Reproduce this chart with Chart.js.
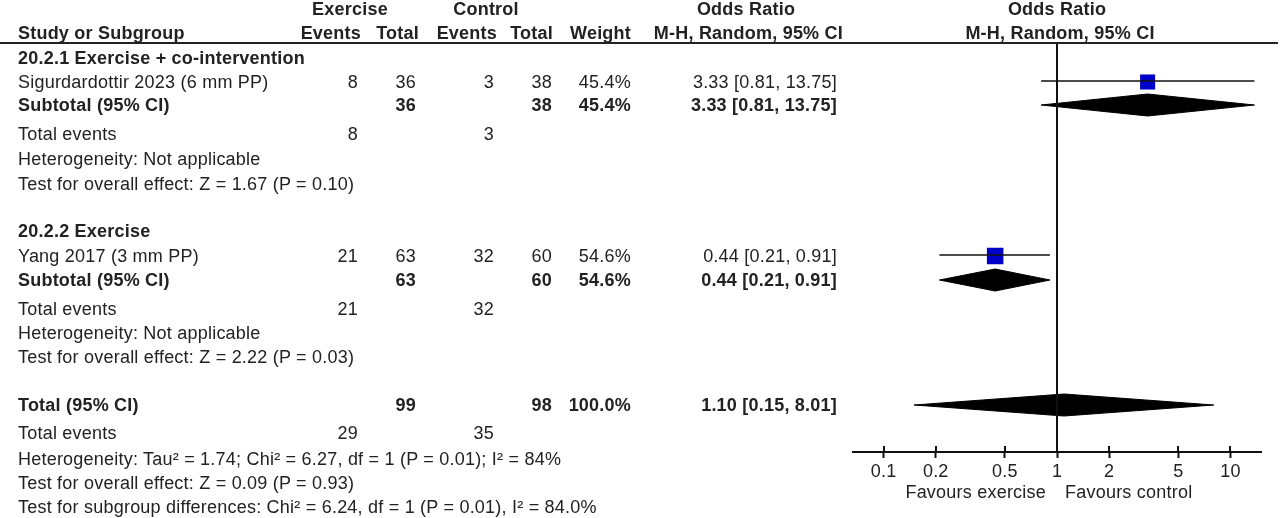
<!DOCTYPE html>
<html>
<head>
<meta charset="utf-8">
<script src="https://cdn.jsdelivr.net/npm/chart.js@4.4.1/dist/chart.umd.min.js"></script>
<style>
  html, body { margin: 0; padding: 0; background: #fff; }
  #wrap { position: relative; width: 1280px; height: 518px; overflow: hidden;
          font-family: 'Liberation Sans', Arial, sans-serif; font-size: 18px; color: #222;
          letter-spacing: 0.22px; }
  #plot { position: absolute; left: 0; top: 0; }
  .t { position: absolute; white-space: nowrap; line-height: 20px; height: 20px; }
  .b { font-weight: bold; }
  #rule { position: absolute; left: 0; width: 1278px; top: 42px; height: 2px; background: #222; }
</style>
</head>
<body>
<div id="wrap">
  <canvas id="plot" width="1280" height="518"></canvas>
  <div id="rule"></div>
</div>
<script>
// ---- dados ----
const studies = ['Sigurdardottir 2023 (6 mm PP)', 'Yang 2017 (3 mm PP)'];
const exEvents = [8, 21];
const exTotal = [36, 63];
const ctEvents = [3, 32];
const ctTotal = [38, 60];
const weights = [45.4, 54.6];
const orEst = [3.33, 0.44];
const ciLow = [0.81, 0.21];
const ciHigh = [13.75, 0.91];

const groupNames = ['20.2.1 Exercise + co-intervention', '20.2.2 Exercise'];
const subOR = [3.33, 0.44];
const subLow = [0.81, 0.21];
const subHigh = [13.75, 0.91];
const subHet = ['Not applicable', 'Not applicable'];
const subZ = ['1.67', '2.22'];
const subP = ['0.10', '0.03'];

const totalOR = [1.10, 0.15, 8.01];
const totalN = [99, 98];
const totalEvents = [29, 35];
const totalHet = 'Tau² = 1.74; Chi² = 6.27, df = 1 (P = 0.01); I² = 84%';
const totalZ = ['0.09', '0.93'];
const subgroupDiff = 'Chi² = 6.24, df = 1 (P = 0.01), I² = 84.0%';

const tickValues = [0.1, 0.2, 0.5, 1, 2, 5, 10];

// ---- layout ----
const Y_TOP = 43, Y_AXIS = 452;
const groupRows = [
  { title: 58, study: 82, sub: 105, ev: 134, het: 159, test: 184 },
  { title: 231, study: 256, sub: 280, ev: 309, het: 333, test: 357 }
];
const totalRows = { total: 405, ev: 433, het: 459, test: 483, diff: 507 };
const col = { label: 18, exEv: 358, exTot: 416, ctEv: 494, ctTot: 552, weight: 631, or: 837 };
const DIAMOND_H = 11;

const wrap = document.getElementById('wrap');
function put(text, x, y, align, bold) {
  const d = document.createElement('div');
  d.className = 't' + (bold ? ' b' : '');
  d.textContent = text;
  d.style.top = (y - 10) + 'px';
  if (align === 'right') d.style.right = (1280 - x) + 'px';
  else if (align === 'center') { d.style.left = x + 'px'; d.style.transform = 'translateX(-50%)'; }
  else d.style.left = x + 'px';
  wrap.appendChild(d);
}
const fmtOR = (v, lo, hi) => v.toFixed(2) + ' [' + lo.toFixed(2) + ', ' + hi.toFixed(2) + ']';

// cabeçalho
put('Exercise', 350, 9, 'center', true);
put('Control', 486, 9, 'center', true);
put('Odds Ratio', 746, 9, 'center', true);
put('Odds Ratio', 1057, 9, 'center', true);
put('Study or Subgroup', col.label, 33, 'left', true);
put('Events', 361, 33, 'right', true);
put('Total', 419, 33, 'right', true);
put('Events', 497, 33, 'right', true);
put('Total', 553, 33, 'right', true);
put('Weight', 631, 33, 'right', true);
put('M-H, Random, 95% CI', 843, 33, 'right', true);
put('M-H, Random, 95% CI', 1060, 33, 'center', true);

// subgrupos
groupRows.forEach((r, i) => {
  put(groupNames[i], col.label, r.title, 'left', true);
  put(studies[i], col.label, r.study, 'left');
  put(exEvents[i], col.exEv, r.study, 'right');
  put(exTotal[i], col.exTot, r.study, 'right');
  put(ctEvents[i], col.ctEv, r.study, 'right');
  put(ctTotal[i], col.ctTot, r.study, 'right');
  put(weights[i].toFixed(1) + '%', col.weight, r.study, 'right');
  put(fmtOR(orEst[i], ciLow[i], ciHigh[i]), col.or, r.study, 'right');
  put('Subtotal (95% CI)', col.label, r.sub, 'left', true);
  put(exTotal[i], col.exTot, r.sub, 'right', true);
  put(ctTotal[i], col.ctTot, r.sub, 'right', true);
  put(weights[i].toFixed(1) + '%', col.weight, r.sub, 'right', true);
  put(fmtOR(subOR[i], subLow[i], subHigh[i]), col.or, r.sub, 'right', true);
  put('Total events', col.label, r.ev, 'left');
  put(exEvents[i], col.exEv, r.ev, 'right');
  put(ctEvents[i], col.ctEv, r.ev, 'right');
  put('Heterogeneity: ' + subHet[i], col.label, r.het, 'left');
  put('Test for overall effect: Z = ' + subZ[i] + ' (P = ' + subP[i] + ')', col.label, r.test, 'left');
});

// total
put('Total (95% CI)', col.label, totalRows.total, 'left', true);
put(totalN[0], col.exTot, totalRows.total, 'right', true);
put(totalN[1], col.ctTot, totalRows.total, 'right', true);
put('100.0%', col.weight, totalRows.total, 'right', true);
put(fmtOR(totalOR[0], totalOR[1], totalOR[2]), col.or, totalRows.total, 'right', true);
put('Total events', col.label, totalRows.ev, 'left');
put(totalEvents[0], col.exEv, totalRows.ev, 'right');
put(totalEvents[1], col.ctEv, totalRows.ev, 'right');
put('Heterogeneity: ' + totalHet, col.label, totalRows.het, 'left');
put('Test for overall effect: Z = ' + totalZ[0] + ' (P = ' + totalZ[1] + ')', col.label, totalRows.test, 'left');
put('Test for subgroup differences: ' + subgroupDiff, col.label, totalRows.diff, 'left');
put('Favours exercise', 1046, 492, 'right');
put('Favours control', 1065, 492, 'left');

// ---- gráfico ----
function diamond(est, lo, hi, y) {
  return {
    data: [{ x: lo, y: y }, { x: est, y: y - DIAMOND_H }, { x: hi, y: y },
           { x: est, y: y + DIAMOND_H }, { x: lo, y: y }],
    showLine: true, fill: 'shape', backgroundColor: '#000', borderColor: '#000',
    borderWidth: 1, pointRadius: 0, tension: 0
  };
}

const datasets = [];
// linha de nulidade
datasets.push({
  data: [{ x: 1, y: Y_TOP }, { x: 1, y: Y_AXIS }],
  showLine: true, borderColor: '#111', borderWidth: 2, pointRadius: 0
});
// intervalos de confiança
studies.forEach((s, i) => {
  datasets.push({
    data: [{ x: ciLow[i], y: groupRows[i].study - 1 }, { x: ciHigh[i], y: groupRows[i].study - 1 }],
    showLine: true, borderColor: '#111', borderWidth: 1.5, pointRadius: 0
  });
});
// quadrados (tamanho pelo peso)
datasets.push({
  data: studies.map((s, i) => ({ x: orEst[i], y: groupRows[i].study })),
  pointStyle: 'rect',
  pointRadius: weights.map(w => 1.58 * Math.sqrt(w)),
  backgroundColor: '#0000c8', borderWidth: 0
});
// diamantes
groupRows.forEach((r, i) => datasets.push(diamond(subOR[i], subLow[i], subHigh[i], r.sub)));
datasets.push(diamond(totalOR[0], totalOR[1], totalOR[2], totalRows.total));

const crossTicks = {
  id: 'crossTicks',
  afterDraw(chart) {
    const xs = chart.scales.x, ctx = chart.ctx;
    ctx.save();
    ctx.strokeStyle = '#111';
    ctx.lineWidth = 2;
    tickValues.forEach(v => {
      const px = Math.round(xs.getPixelForValue(v));
      ctx.beginPath();
      ctx.moveTo(px, chart.chartArea.bottom - 6);
      ctx.lineTo(px, chart.chartArea.bottom);
      ctx.stroke();
    });
    ctx.restore();
  }
};

new Chart(document.getElementById('plot').getContext('2d'), {
  type: 'scatter',
  data: { datasets: datasets },
  options: {
    responsive: false,
    animation: false,
    devicePixelRatio: 1,
    layout: { padding: { left: 853, right: 19, top: Y_TOP, bottom: 0 } },
    plugins: { legend: { display: false }, tooltip: { enabled: false } },
    scales: {
      x: {
        type: 'logarithmic',
        min: 1 / 15,
        max: 15,
        border: { display: true, color: '#111', width: 2 },
        grid: { display: true, drawOnChartArea: false, drawTicks: true, tickLength: 6, tickColor: '#111', tickWidth: 2 },
        ticks: {
          color: '#222', padding: 3, autoSkip: false, maxRotation: 0,
          font: { family: "'Liberation Sans', Arial, sans-serif", size: 18 },
          callback: v => String(v)
        },
        afterBuildTicks: s => { s.ticks = tickValues.map(v => ({ value: v })); },
        afterFit: s => { s.height = 518 - Y_AXIS; }
      },
      y: { type: 'linear', min: Y_TOP, max: Y_AXIS, reverse: true, display: false }
    }
  },
  plugins: [crossTicks]
});
</script>
</body>
</html>
